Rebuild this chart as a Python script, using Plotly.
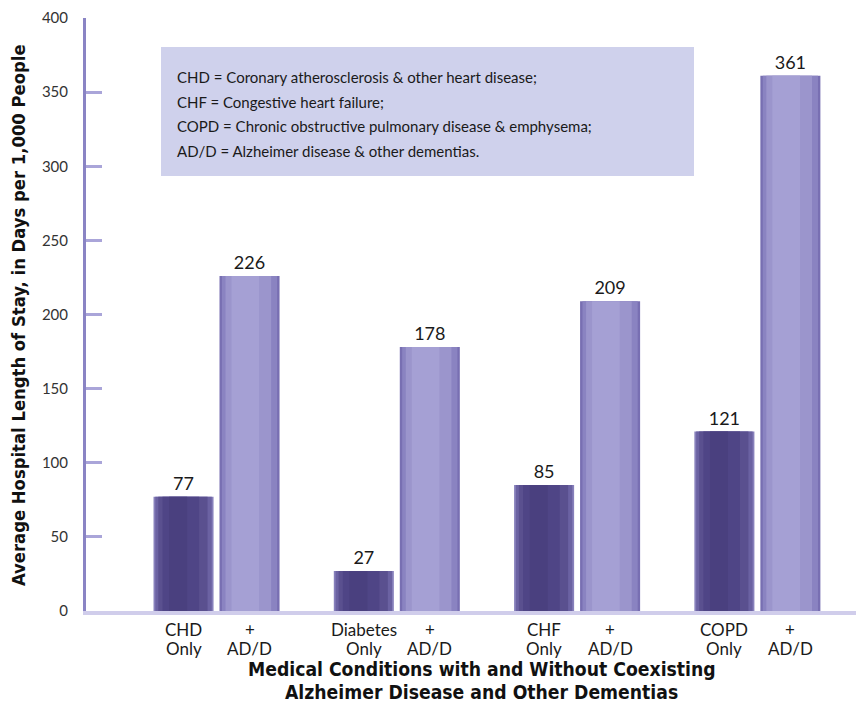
import plotly.graph_objects as go

# Hospital length of stay (days per 1,000 people)
conditions = ["CHD", "Diabetes", "CHF", "COPD"]
only_values = [77, 27, 85, 121]
with_add_values = [226, 178, 209, 361]
only_labels = [("CHD", "Only"), ("Diabetes", "Only"), ("CHF", "Only"), ("COPD", "Only")]
with_add_labels = [("+", "AD/D")] * 4
y_ticks = [0, 50, 100, 150, 200, 250, 300, 350, 400]
key_lines = [
    "CHD = Coronary atherosclerosis & other heart disease;",
    "CHF = Congestive heart failure;",
    "COPD = Chronic obstructive pulmonary disease & emphysema;",
    "AD/D = Alzheimer disease & other dementias.",
]

BAR_W = 0.333
SHIFT = 0.183

# nested shading layers (left fraction, right fraction, colour) for a rounded look
dark_layers = [
    (0.00, 1.00, "#8780bb"),
    (0.03, 0.97, "#6b62a2"),
    (0.08, 0.90, "#5a508f"),
    (0.15, 0.76, "#4f4586"),
    (0.26, 0.56, "#4a407f"),
]
light_layers = [
    (0.00, 1.00, "#786fb2"),
    (0.04, 0.96, "#8a83c1"),
    (0.10, 0.86, "#9b95cc"),
    (0.20, 0.66, "#a5a0d4"),
]

idx = list(range(len(conditions)))
fig = go.Figure()


def add_series(values, shift, layers, name):
    xs = [i + shift for i in idx]
    for k, (lf, rf, col) in enumerate(layers):
        fig.add_trace(go.Bar(
            x=xs, y=values,
            width=BAR_W * (rf - lf),
            offset=-BAR_W / 2 + BAR_W * lf,
            marker=dict(color=col, line=dict(width=0)),
            name=name, showlegend=False,
            text=[str(v) for v in values] if k == 0 else None,
            textposition="outside" if k == 0 else "none",
            textfont=dict(family="Lato, sans-serif", size=18, color="#1a1a1a"),
            cliponaxis=False,
            hoverinfo="skip" if k else "y",
        ))


add_series(only_values, -SHIFT, dark_layers, "Only")
add_series(with_add_values, SHIFT, light_layers, "+ AD/D")

fig.update_layout(
    width=862, height=715,
    margin=dict(l=86, r=6, t=18, b=104),
    paper_bgcolor="white", plot_bgcolor="white",
    barmode="overlay",
    font=dict(family="Lato, sans-serif", size=15, color="#222"),
    xaxis=dict(
        range=[-0.724, 3.547], showticklabels=False,
        showgrid=False, zeroline=False, showline=True,
        linecolor="#d0cdeb", linewidth=4, ticks="",
    ),
    yaxis=dict(
        range=[0, 400], tickvals=y_ticks, showgrid=False, zeroline=False,
        showline=True, linecolor="#8a84c4", linewidth=3,
        ticks="inside", ticklen=16, tickwidth=3, tickcolor="#aaa5d9",
        ticklabelstandoff=12,
        tickfont=dict(size=15, color="#333"),
    ),
)

# two-line category labels under each bar
label_font = dict(family="Lato, sans-serif", size=17, color="#1a1a1a")
for shift, labels in ((-SHIFT, only_labels), (SHIFT, with_add_labels)):
    for i, (top, bottom) in zip(idx, labels):
        for text, ypx in ((top, 629), (bottom, 648)):
            fig.add_annotation(xref="x", yref="paper", x=i + shift,
                               y=(611 - ypx) / 593, xanchor="center",
                               yanchor="middle", showarrow=False,
                               text=text, font=label_font)

# key box
fig.add_shape(type="rect", xref="paper", yref="paper",
              x0=(161 - 86) / 770, x1=(694 - 86) / 770,
              y0=(611 - 176) / 593, y1=(611 - 47) / 593,
              fillcolor="#cfd1ec", line=dict(width=0), layer="below")
for j, line in enumerate(key_lines):
    yc = 77 + j * 24.7
    fig.add_annotation(xref="paper", yref="paper",
                       x=(175 - 86) / 770, y=(611 - yc) / 593,
                       xanchor="left", yanchor="middle", showarrow=False,
                       text=line, font=dict(size=15, color="#1a1a1a"))

title_family = "DejaVu Sans Condensed, Liberation Sans, sans-serif"
fig.add_annotation(xref="paper", yref="paper", x=(18 - 86) / 770,
                   y=(611 - 315) / 593,
                   textangle=-90, showarrow=False, xanchor="center", yanchor="middle",
                   text="<b>Average Hospital Length of Stay, in Days per 1,000 People</b>",
                   font=dict(family=title_family, size=18.3, color="#111"))
fig.add_annotation(xref="paper", yref="paper", x=(482 - 86) / 770, y=(611 - 669) / 593,
                   showarrow=False, xanchor="center", yanchor="middle",
                   text="<b>Medical Conditions with and Without Coexisting</b>",
                   font=dict(family=title_family, size=19.2, color="#111"))
fig.add_annotation(xref="paper", yref="paper", x=(482 - 86) / 770, y=(611 - 692) / 593,
                   showarrow=False, xanchor="center", yanchor="middle",
                   text="<b>Alzheimer Disease and Other Dementias</b>",
                   font=dict(family=title_family, size=19.2, color="#111"))

fig.write_html("out.html")
